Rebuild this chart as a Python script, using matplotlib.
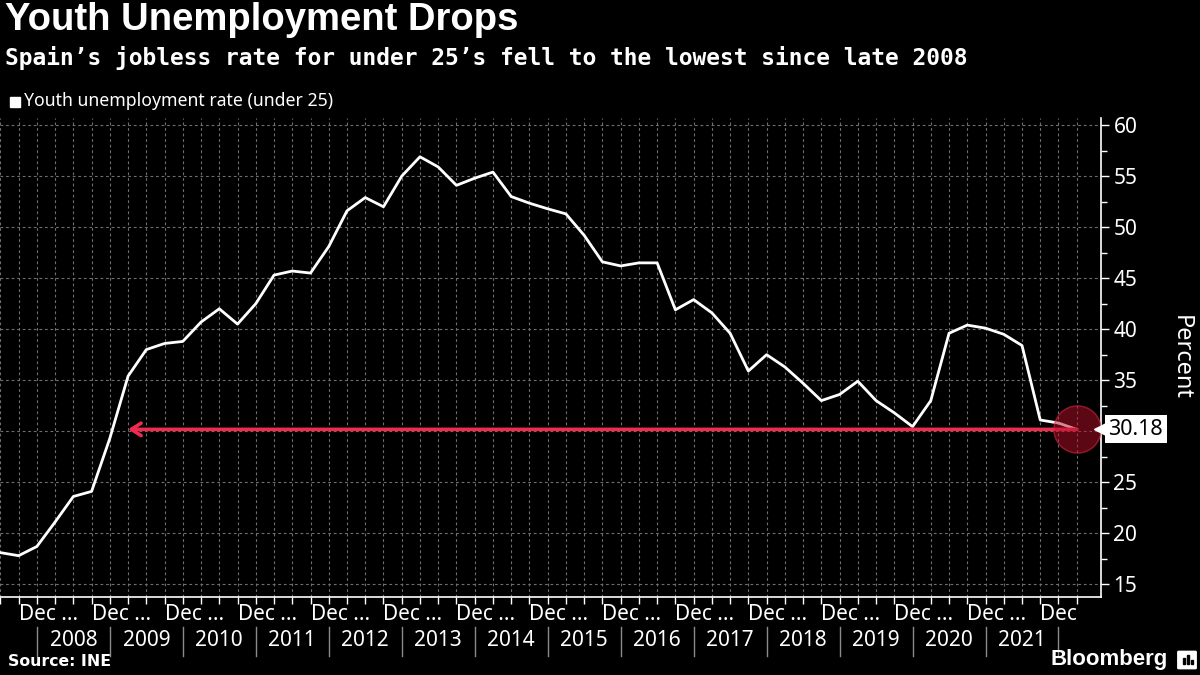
import numpy as np
import matplotlib
matplotlib.use("Agg")
import matplotlib.pyplot as plt
from matplotlib.transforms import blended_transform_factory
from matplotlib.patches import Rectangle, FancyBboxPatch

# Spain youth unemployment rate (under 25), quarterly, Q1 2007 - Q4 2021
rate = [18.1, 17.8, 18.7, 21.1, 23.6, 24.1, 29.3, 35.4, 38.0, 38.6,
        38.8, 40.7, 42.0, 40.5, 42.5, 45.3, 45.7, 45.5, 48.1, 51.6,
        52.9, 52.0, 55.0, 56.9, 55.9, 54.1, 54.8, 55.4, 53.0, 52.35,
        51.8, 51.3, 49.2, 46.6, 46.2, 46.5, 46.5, 41.9, 42.9, 41.6,
        39.6, 35.9, 37.5, 36.3, 34.7, 33.0, 33.6, 34.9, 33.0, 31.8,
        30.45, 33.0, 39.6, 40.4, 40.1, 39.5, 38.4, 31.1, 30.8, 30.18]
years = ['2008', '2009', '2010', '2011', '2012', '2013', '2014',
         '2015', '2016', '2017', '2018', '2019', '2020', '2021']
dec_labels = ['Dec ...'] * 14 + ['Dec']
y_ticks = [15, 20, 25, 30, 35, 40, 45, 50, 55, 60]
late_2008 = 7  # quarter index the arrow points back to

W, H = 1200, 675
RED = '#ef2b4f'
GRID = '#6e6e6e'
SANS = ['Noto Sans', 'DejaVu Sans']
BOLD = ['Liberation Sans', 'DejaVu Sans']


def fx(px):
    return px / W


def fy(py):
    return 1 - py / H


fig = plt.figure(figsize=(12, 6.75), dpi=100, facecolor='black')
ax = fig.add_axes([0, fy(597), fx(1101), fy(118) - fy(597)])
ax.set_facecolor('black')

q = np.arange(len(rate))
last = rate[-1]

ax.plot(q, rate, color='white', lw=2, zorder=3)

ax.set_xlim(-0.02, 60.33)
ax.set_ylim(13.75, 60.7)

# grid
ax.set_xticks(q)
ax.set_yticks(y_ticks)
# the "30" label sits under the last-value tag
ax.set_yticklabels(['' if v == 30 else str(v) for v in y_ticks])
ax.set_yticks(np.arange(17.5, 60, 5), minor=True)
ax.grid(True, color=GRID, lw=0.8, ls=(0, (2.5, 2.5)))
ax.set_axisbelow(True)

for s in ['top', 'left']:
    ax.spines[s].set_visible(False)
ax.spines['bottom'].set_color('white')
ax.spines['right'].set_color('white')
ax.spines['bottom'].set_linewidth(1.2)
ax.spines['right'].set_linewidth(1.2)

ax.tick_params(axis='x', colors='white', length=5, width=1, labelbottom=False)
ax.yaxis.tick_right()
ax.tick_params(axis='y', which='major', colors='white', length=6, width=1,
               labelsize=15, pad=3)
ax.tick_params(axis='y', which='minor', colors='white', length=4, width=1)
for lab in ax.get_yticklabels():
    lab.set_family(SANS)

ax.set_ylabel('Percent', color='white', fontsize=17, family=SANS,
              rotation=270, labelpad=40)
ax.yaxis.set_label_position('right')

# x labels: Dec row and year row
bt = blended_transform_factory(ax.transData, fig.transFigure)
for k, lab in enumerate(dec_labels):
    ax.text(1 + 4 * k, fy(614), lab, transform=bt, ha='left', va='center',
            color='white', fontsize=15, family=SANS, clip_on=False)
for k, yr in enumerate(years):
    ax.text(4 + 4 * k, fy(640), yr, transform=bt, ha='center', va='center',
            color='white', fontsize=15, family=SANS, clip_on=False)
for k in range(len(years) + 1):
    ax.plot([2 + 4 * k] * 2, [fy(627), fy(656)], transform=bt, color='#8a8a8a',
            lw=1, clip_on=False)

# arrow back to late 2008
ax.annotate('', xy=(late_2008, last), xytext=(q[-1], last),
            arrowprops=dict(arrowstyle='->,head_length=0.7,head_width=0.45',
                            color=RED, lw=2.6, shrinkA=0, shrinkB=0),
            zorder=4)
ax.plot(q[-1], last, 'o', ms=34, mfc=(0.72, 0.06, 0.16, 0.5),
        mec=(0.85, 0.15, 0.25, 0.6), mew=1, zorder=5, clip_on=False)

# last value tag
yt = blended_transform_factory(ax.transAxes, ax.transData)
ax.plot([1.0], [last], marker='<', ms=10, color='white', transform=yt,
        clip_on=False, zorder=10)
ax.text(1.0068, last, '30.18', transform=yt, ha='left', va='center',
        fontsize=15.5, family=SANS, color='black', zorder=11, clip_on=False,
        bbox=dict(boxstyle='square,pad=0.16', fc='white', ec='none'))

# titles
fig.text(fx(5), fy(2), 'Youth Unemployment Drops', color='white',
         fontsize=27.5, fontweight='bold', family=BOLD, va='top', ha='left')
fig.text(fx(5), fy(46),
         'Spain\u2019s jobless rate for under 25\u2019s fell to the lowest since late 2008',
         color='white', fontsize=16.5, fontweight='bold',
         family=['DejaVu Sans Mono'], va='top', ha='left')

# legend
fig.patches.append(Rectangle((fx(10), fy(107)), fx(10), 10 / H, color='white',
                             transform=fig.transFigure))
fig.text(fx(24), fy(101), 'Youth unemployment rate (under 25)', color='white',
         fontsize=12.7, family=SANS, va='center', ha='left')

# footer
fig.text(fx(8), fy(661), 'Source: INE', color='white', fontsize=11.3,
         fontweight='bold', family=['DejaVu Sans'], va='center', ha='left')
fig.text(fx(1168), fy(660), 'Bloomberg', color='white', fontsize=16,
         fontweight='bold', family=BOLD, va='center', ha='right')
fig.patches.append(FancyBboxPatch((fx(1179), fy(668)), fx(16), 16 / H,
                                  boxstyle='round,pad=0.001', color='white',
                                  transform=fig.transFigure))
for bx, bh in [(1183, 6), (1187, 9), (1191, 4)]:
    fig.patches.append(Rectangle((fx(bx), fy(664)), fx(2.2), bh / H, color='black',
                                 transform=fig.transFigure))

fig.savefig('out.png', dpi=100, facecolor='black')
